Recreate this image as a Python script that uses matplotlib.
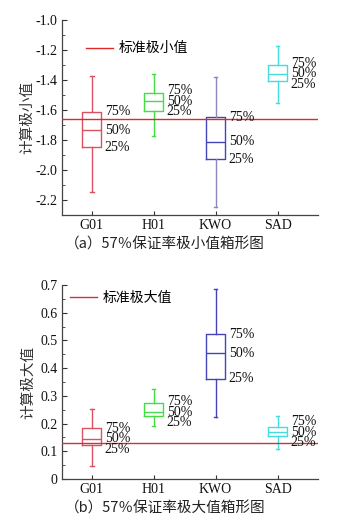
import numpy as np
import matplotlib
matplotlib.use("Agg")
import matplotlib.pyplot as plt
from matplotlib.ticker import MultipleLocator, FuncFormatter

plt.rcParams['font.family'] = ['Liberation Serif', 'Noto Sans CJK SC']
plt.rcParams['axes.unicode_minus'] = False

# ============== DATA ==============
stations = ["G01", "H01", "KWO", "SAD"]

# (a) minimum values
min_whislo = [-2.149, -1.776, -2.244, -1.556]
min_q1 = [-1.847, -1.607, -1.929, -1.409]
min_med = [-1.736, -1.542, -1.811, -1.358]
min_q3 = [-1.611, -1.484, -1.649, -1.302]
min_whishi = [-1.373, -1.360, -1.382, -1.173]
min_standard = -1.662

# (b) maximum values
max_whislo = [0.047, 0.192, 0.225, 0.107]
max_q1 = [0.123, 0.228, 0.361, 0.154]
max_med = [0.145, 0.241, 0.454, 0.169]
max_q3 = [0.183, 0.273, 0.522, 0.189]
max_whishi = [0.254, 0.325, 0.684, 0.227]
max_standard = 0.131

BOX_COLORS = ["#d85262", "#44dd44", "#4444b4", "#44dddd"]
FS = 10
CJK = ['Noto Sans CJK SC']


def draw_panel(ax, lo, q1, med, q3, hi, standard, line_color, legend_text,
               ylim, major, minor, legend_anchor, whisker_colors):
    pos = np.arange(1, len(stations) + 1)
    for i, name in enumerate(stations):
        st = dict(label=name, whislo=lo[i], q1=q1[i], med=med[i],
                  q3=q3[i], whishi=hi[i], fliers=[])
        c = BOX_COLORS[i]
        wc = whisker_colors[i]
        ax.bxp([st], positions=[pos[i]], widths=0.31, capwidths=0.06,
               showfliers=False,
               boxprops=dict(color=c, linewidth=1.0),
               medianprops=dict(color=c, linewidth=1.0),
               whiskerprops=dict(color=wc, linewidth=1.0),
               capprops=dict(color=wc, linewidth=1.0))

    ax.axhline(standard, color=line_color, linewidth=1.0, label=legend_text,
               zorder=3)
    ax.set_xlim(0.52, 4.65)
    ax.set_ylim(*ylim)
    ax.set_xticks(pos)
    ax.set_xticklabels(stations, fontsize=FS)
    ax.yaxis.set_major_locator(MultipleLocator(major))
    ax.yaxis.set_minor_locator(MultipleLocator(minor))
    ax.tick_params(axis='both', which='both', direction='in', labelsize=FS,
                   colors='#333333', labelcolor='#111111')
    ax.tick_params(axis='y', which='major', length=3.5, pad=3)
    ax.tick_params(axis='y', which='minor', length=2)
    ax.tick_params(axis='x', which='major', length=3, pad=3)
    ax.tick_params(axis='x', which='minor', bottom=False)
    for s in ['top', 'right']:
        ax.spines[s].set_visible(False)
    for s in ['left', 'bottom']:
        ax.spines[s].set_color('#444444')
        ax.spines[s].set_linewidth(0.9)

    # percentile labels, pushed apart when boxes are short
    fig = ax.figure
    fig.canvas.draw()
    to_px = ax.transData
    inv = ax.transData.inverted()
    gap = 10.5
    for i in range(len(stations)):
        x = pos[i] + 0.155
        p3, pm, p1 = [to_px.transform((x, v))[1] for v in (q3[i], med[i], q1[i])]
        if p3 - pm < gap:
            p3 = pm + gap
        if pm - p1 < gap:
            p1 = pm - gap
        for txt, p in zip(["75%", "50%", "25%"], [p3, pm, p1]):
            yv = inv.transform((0, p))[1]
            ax.annotate(txt, xy=(x, yv), xytext=(2.5, 0),
                        textcoords='offset points', ha='left', va='center',
                        fontsize=FS, color='#111111')

    ax.legend(loc='upper left', bbox_to_anchor=legend_anchor,
              frameon=False, borderaxespad=0, borderpad=0,
              handlelength=1.95, handletextpad=0.4,
              prop=dict(family=CJK, size=FS))


fig = plt.figure(figsize=(3.44, 5.19), dpi=100)
ax1 = fig.add_axes([0.180, 0.5857, 0.744, 0.3758])
ax2 = fig.add_axes([0.180, 0.0771, 0.744, 0.3738])

draw_panel(ax1, min_whislo, min_q1, min_med, min_q3, min_whishi,
           min_standard, "#e02a2a", "标准极小值", (-2.3, -1.0), 0.2, 0.1,
           (0.094, 0.89),
           [BOX_COLORS[0], BOX_COLORS[1], "#8888bb", BOX_COLORS[3]])
draw_panel(ax2, max_whislo, max_q1, max_med, max_q3, max_whishi,
           max_standard, "#cc3340", "标准极大值", (0.0, 0.7), 0.1, 0.05,
           (0.031, 0.968), BOX_COLORS)
ax2.yaxis.set_major_formatter(
    FuncFormatter(lambda v, p: "0" if abs(v) < 1e-9 else f"{v:.1f}"))

fig.text(0.078, 0.5857 + 0.3758 / 2, "计算极小值", rotation=90, ha='center',
         va='center', fontsize=10.5, family=CJK, color='#333333')
fig.text(0.081, 0.0771 + 0.3738 / 2, "计算极大值", rotation=90, ha='center',
         va='center', fontsize=10.5, family=CJK, color='#333333')

fig.text(0.478, 0.528, "（a）57％保证率极小值箱形图", ha='center', va='center',
         fontsize=10.5, family=CJK, color='#222222')
fig.text(0.480, 0.021, "（b）57％保证率极大值箱形图", ha='center', va='center',
         fontsize=10.5, family=CJK, color='#222222')

fig.savefig("out.png", dpi=100)
